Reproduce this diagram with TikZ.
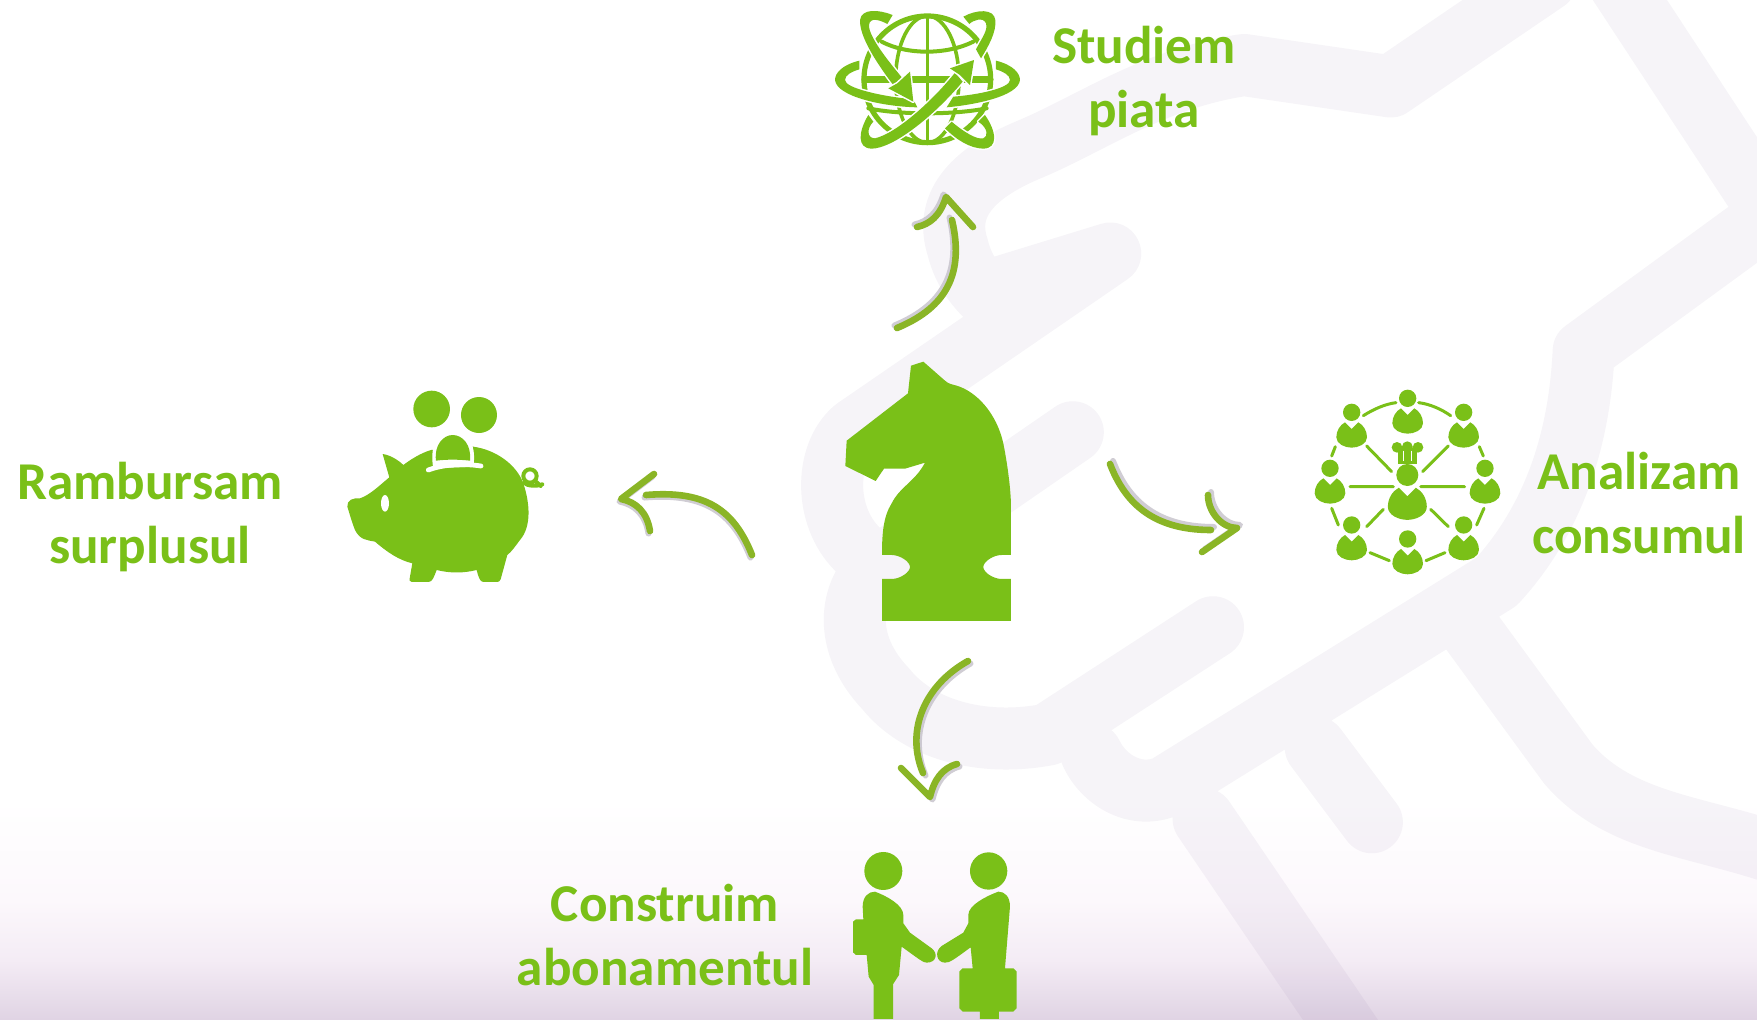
\documentclass[tikz,border=0pt]{standalone}
\usepackage{fontspec}
\setmainfont{Carlito}
\definecolor{leaf}{HTML}{7AC018}
\definecolor{stem}{HTML}{8AB526}
\definecolor{shade}{HTML}{BDB9C2}
\definecolor{bandc}{HTML}{6A4A8A}
\newcommand{\personshape}{%
    \fill[leaf] (0,0) circle (26);
    \fill[leaf] (-20,30) -- (0,50) -- (20,30) .. controls (35,38) and (46,55) .. (46,75)
      .. controls (46,95) and (20,106) .. (0,106) .. controls (-20,106) and (-46,95) .. (-46,75)
      .. controls (-46,55) and (-35,38) .. (-20,30) -- cycle;
}
\tikzset{
  label text/.style={text=leaf,font=\bfseries\fontsize{26.6}{32}\selectfont,align=center,inner sep=0pt},
  hand stroke/.style={draw=stem,line width=3.3pt,line cap=round,line join=round},
  hand shadow/.style={draw=shade,line width=3pt,line cap=round,line join=round,opacity=.7},
  icon line/.style={draw=leaf,line cap=round,line join=round},
  ribbon/.style={fill=leaf,preaction={draw=white,line width=1.5pt,line join=round}}
}
\begin{document}
\begin{tikzpicture}[x=0.5pt,y=-0.5pt]
\useasboundingbox (0,0) rectangle (1757,1019);
\clip (0,0) rectangle (1757,1019);
% page background
\fill[white] (0,0) rectangle (1757,1019);
\shade[top color=white,bottom color={rgb,255:red,252;green,248;blue,252}] (0,800) rectangle (1757,900);
\shade[top color={rgb,255:red,252;green,248;blue,252},bottom color={rgb,255:red,244;green,236;blue,245}] (0,900) rectangle (1757,960);
\shade[top color={rgb,255:red,244;green,236;blue,245},bottom color={rgb,255:red,224;green,212;blue,228}] (0,960) rectangle (1757,1019);
% pale handshake in the background
\begin{scope}[shift={(780,0)},xscale=0.623,yscale=0.65]
\draw[bandc,opacity=.06,line width=31pt,line cap=round,line join=round]
  (1230,-30) -- (980,133) -- (745,100) .. controls (600,120) and (500,190) .. (400,230)
  .. controls (300,270) and (265,320) .. (285,380) .. controls (295,420) and (320,450) .. (360,480)
  (360,440) -- (530,390) -- (120,660) .. controls (70,700) and (70,800) .. (130,850)
  (470,665) -- (160,870) .. controls (110,910) and (100,990) .. (170,1060)
  .. controls (220,1120) and (320,1150) .. (430,1130) -- (695,965)
  (1330,-50) -- (1590,330) -- (1290,540) .. controls (1285,640) and (1260,780) .. (1150,895)
  -- (620,1210) .. controls (570,1230) and (520,1200) .. (500,1160)
  (680,1260) -- (950,1640)
  (860,1150) -- (950,1265)
  (1105,965) -- (1265,1175) .. controls (1350,1270) and (1480,1270) .. (1620,1320);
\end{scope}
% arrow end points
\coordinate (upS) at (897,328); \coordinate (upE) at (952,220);
\coordinate (upT) at (946,197); \coordinate (upL) at (917,227); \coordinate (upR) at (973,227);
\coordinate (riS) at (1110,464); \coordinate (riE) at (1211,530);
\coordinate (riT) at (1237,528); \coordinate (riU) at (1208,495); \coordinate (riD) at (1202,552);
\coordinate (leS) at (752,555); \coordinate (leE) at (646,495);
\coordinate (leT) at (621,499); \coordinate (leU) at (654,474); \coordinate (leD) at (650,531);
\coordinate (doS) at (968,661); \coordinate (doE) at (923,773);
\coordinate (doT) at (930,797); \coordinate (doL) at (901,768); \coordinate (doR) at (957,764);
\def\upPath{(upS) .. controls (940,310) and (966,280) .. (upE) (upL) .. controls (930,224) and (940,216) .. (upT) -- (upR)}
\def\riPath{(riS) .. controls (1124,500) and (1150,530) .. (riE) (riU) .. controls (1208,512) and (1222,528) .. (riT) -- (riD)}
\def\lePath{(leS) .. controls (734,510) and (706,490) .. (leE) (leD) .. controls (647,512) and (636,502) .. (leT) -- (leU)}
\def\doPath{(doS) .. controls (925,685) and (905,730) .. (doE) (doR) .. controls (942,768) and (934,780) .. (doT) -- (doL)}
\draw[hand shadow,transform canvas={shift={(-2.5,-2.5)}}] \upPath;
\draw[hand stroke] \upPath;
\draw[hand shadow,transform canvas={shift={(3,-3)}}] \riPath;
\draw[hand stroke] \riPath;
\draw[hand shadow,transform canvas={shift={(-1.5,2.5)}}] \lePath;
\draw[hand stroke] \lePath;
\draw[hand shadow,transform canvas={shift={(2.5,2.5)}}] \doPath;
\draw[hand stroke] \doPath;
% knight
\begin{scope}[shift={(820,340)},scale=0.3333]
\fill[leaf] (310,65) -- (375,122) .. controls (385,132) and (400,134) .. (410,137)
  .. controls (470,155) and (530,220) .. (550,310) .. controls (562,370) and (573,450) .. (573,500)
  -- (573,645) -- (545,645) .. controls (520,645) and (490,665) .. (490,681)
  .. controls (490,697) and (520,717) .. (545,717) -- (573,717) -- (573,843) -- (186,843) -- (186,717)
  -- (215,717) .. controls (240,717) and (270,697) .. (270,681)
  .. controls (270,665) and (240,645) .. (215,645) -- (186,645)
  .. controls (186,580) and (190,530) .. (215,490) .. controls (240,440) and (285,425) .. (315,368)
  -- (255,386) -- (192,386) -- (167,423) -- (76,378) -- (80,302) -- (264,160) -- (273,77) -- cycle;
\end{scope}
% piggy bank
\begin{scope}[shift={(330,370)},scale=0.3333]
\fill[leaf] (305,117) circle (55);
\fill[leaf] (447,135) circle (54);
\fill[leaf] (52,410) .. controls (50,390) and (70,383) .. (90,385) .. controls (120,375) and (150,345) .. (178,322)
  -- (158,252) .. controls (180,255) and (205,270) .. (220,285) .. controls (240,270) and (270,250) .. (303,240)
  -- (430,230) .. controls (500,240) and (560,285) .. (580,340) .. controls (600,400) and (605,470) .. (570,510)
  .. controls (555,530) and (545,545) .. (532,555) -- (512,628) .. controls (510,635) and (505,636) .. (500,636)
  -- (460,636) .. controls (450,636) and (445,620) .. (440,600) .. controls (400,610) and (360,610) .. (320,600)
  .. controls (312,620) and (308,636) .. (295,636) -- (245,636) .. controls (238,636) and (238,630) .. (240,620)
  -- (247,580) .. controls (205,570) and (170,545) .. (135,515) .. controls (110,510) and (90,510) .. (75,480)
  .. controls (65,455) and (60,435) .. (52,410) -- cycle;
\fill[white] (165,400) ellipse (12 and 25);
\fill[white] (310,295) .. controls (295,215) and (335,183) .. (368,183) .. controls (405,183) and (442,215) .. (430,290) -- cycle;
\fill[leaf] (318,272) .. controls (312,225) and (340,195) .. (368,195) .. controls (398,195) and (425,225) .. (420,272)
  .. controls (385,268) and (350,268) .. (318,272) -- cycle;
\draw[white,line width=2.4pt,line cap=round] (295,300) .. controls (340,283) and (400,280) .. (453,288);
\draw[icon line,line width=2pt] (600,318) circle (20);
\draw[icon line,line width=2pt] (582,338) .. controls (590,348) and (620,350) .. (637,343) (615,332) -- (632,348);
\end{scope}
% network of people
\begin{scope}[shift={(1300,370)},scale=0.3333]
\foreach \px/\py in {323/85,155/127,491/127,90/295,555/295,155/465,491/465,323/507}
  {\begin{scope}[shift={(\px,\py)}]\personshape\end{scope}}
\begin{scope}[shift={(322,315)},scale=1.27]
  \personshape
\end{scope}
\draw[icon line,line width=1.5pt]
  (190,137) .. controls (220,118) and (255,102) .. (288,98)
  (356,98) .. controls (390,102) and (425,118) .. (452,137)
  (106,230) -- (95,258) (538,230) -- (550,258)
  (95,415) -- (115,465) (552,415) -- (530,465)
  (210,548) -- (268,572) (435,548) -- (378,572)
  (200,228) -- (275,305) (445,228) -- (368,305)
  (150,350) -- (280,350) (362,350) -- (494,350)
  (250,418) -- (200,470) (392,418) -- (445,470);
\fill[leaf] (291,232) circle (16) (322,230) circle (16) (354,232) circle (16);
\fill[leaf] (295,235) rectangle (350,282);
\draw[white,line width=.7pt] (310,242) -- (310,272) (334,242) -- (334,272);
\end{scope}
% handshake
\begin{scope}[shift={(830,640)},scale=0.3333]
\fill[leaf] (160,693) circle (57);
\fill[leaf] (476,693) circle (56);
\fill[leaf] (98,800) .. controls (98,770) and (115,755) .. (135,755) .. controls (170,768) and (220,795) .. (220,825)
  -- (220,850) -- (240,878) -- (305,925) .. controls (325,940) and (320,968) .. (290,968)
  .. controls (280,968) and (270,960) .. (215,920) -- (207,1005) -- (189,1033) -- (189,1137) -- (131,1137) -- (131,1035)
  -- (116,1010) -- (110,945) -- (78,945) -- (69,937) -- (69,845) -- (78,838) -- (100,838) -- cycle;
\fill[leaf] (540,800) .. controls (540,770) and (525,755) .. (505,755) .. controls (470,768) and (415,795) .. (415,825)
  -- (415,850) -- (400,878) -- (335,918) .. controls (312,935) and (320,968) .. (345,968)
  .. controls (360,968) and (370,960) .. (422,922) -- (428,985) -- (398,985) -- (388,995) -- (388,1105) -- (398,1115)
  -- (450,1115) -- (450,1137) -- (507,1137) -- (507,1115) -- (550,1115) -- (560,1105) -- (560,995) -- (550,985)
  -- (525,985) -- cycle;
\end{scope}
% globe with orbits
\begin{scope}[shift={(800,0)},scale=0.3333]
\draw[icon line,line width=2.6pt] (382,238) circle (190);
\draw[icon line,line width=1.8pt] (382,238) ellipse (95 and 190);
\draw[icon line,line width=1.8pt] (382,50) -- (382,425);
\draw[icon line,line width=2pt] (245,125) .. controls (320,165) and (440,165) .. (520,125);
\draw[icon line,line width=3.6pt] (195,238) -- (570,238);
\draw[icon line,line width=2pt] (205,325) .. controls (300,345) and (460,345) .. (560,325);
% ribbons
\path[ribbon] (178,182) .. controls (125,195) and (105,220) .. (105,240) .. controls (110,290) and (250,320) .. (352,322)
  -- (340,298) .. controls (250,290) and (135,265) .. (135,240) .. controls (135,225) and (155,215) .. (178,208) -- cycle;
\path[ribbon] (588,182) .. controls (640,195) and (660,220) .. (660,240) .. controls (655,290) and (520,315) .. (440,322)
  -- (460,290) .. controls (530,285) and (630,265) .. (630,240) .. controls (630,225) and (610,215) .. (588,208) -- cycle;
\path[ribbon] (278,45) .. controls (235,28) and (185,25) .. (180,60) .. controls (178,110) and (230,190) .. (285,262)
  -- (312,240) .. controls (270,190) and (205,110) .. (207,75) .. controls (210,50) and (240,60) .. (262,72) -- cycle;
\path[ribbon] (490,50) .. controls (530,28) and (582,25) .. (586,60) .. controls (590,95) and (565,140) .. (543,175)
  -- (528,148) .. controls (545,115) and (565,90) .. (558,70) .. controls (550,50) and (520,60) .. (508,72) -- cycle;
\path[ribbon] (555,345) .. controls (590,395) and (595,445) .. (550,446) .. controls (510,445) and (470,420) .. (435,385)
  -- (455,365) .. controls (490,395) and (530,420) .. (550,415) .. controls (565,410) and (565,385) .. (535,365) -- cycle;
\path[ribbon] (340,305) -- (265,265) -- (292,250) -- (330,215) -- cycle;
\path[ribbon] (205,345) .. controls (175,395) and (170,445) .. (215,446) .. controls (280,445) and (400,350) .. (488,245)
  -- (465,218) .. controls (400,300) and (290,400) .. (225,415) .. controls (200,415) and (200,385) .. (220,365) -- cycle;
\path[ribbon] (522,180) -- (450,205) -- (480,225) -- (510,255) -- cycle;
\end{scope}
% labels
\node[label text] (study) at (1144,81) {Studiem\\piata};
\node[label text] (anal) at (1639,503) {Analizam\\consumul};
\node[label text] (repay) at (150,517) {Rambursam\\surplusul};
\node[label text] (build) at (665,935) {Construim\\abonamentul};
\end{tikzpicture}
\end{document}
